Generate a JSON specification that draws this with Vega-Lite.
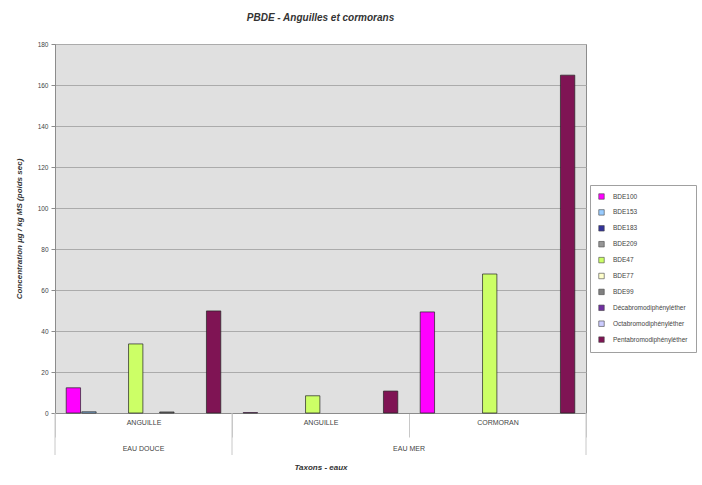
{
  "$schema": "https://vega.github.io/schema/vega-lite/v6.json",
  "width": 531,
  "height": 369,
  "autosize": {"type": "none"},
  "padding": {"left": 55, "top": 44, "right": 116, "bottom": 72},
  "background": "white",
  "title": {
    "text": "PBDE - Anguilles et cormorans",
    "font": "Liberation Sans",
    "fontSize": 10,
    "fontStyle": "italic",
    "fontWeight": "bold",
    "color": "#333333",
    "offset": 18
  },
  "config": {
    "font": "Liberation Sans",
    "view": {"fill": "#e0e0e0", "stroke": "#8c8c8c", "strokeWidth": 1}
  },
  "datasets": {
    "bars": [
      {"groupe": "EAU DOUCE|ANGUILLE", "serie": "BDE100", "valeur": 12.3},
      {"groupe": "EAU DOUCE|ANGUILLE", "serie": "BDE153", "valeur": 0.6},
      {"groupe": "EAU DOUCE|ANGUILLE", "serie": "BDE47", "valeur": 33.7},
      {"groupe": "EAU DOUCE|ANGUILLE", "serie": "BDE99", "valeur": 0.5},
      {"groupe": "EAU DOUCE|ANGUILLE", "serie": "Pentabromodiphényléther", "valeur": 49.8},
      {"groupe": "EAU MER|ANGUILLE", "serie": "BDE100", "valeur": 0.2},
      {"groupe": "EAU MER|ANGUILLE", "serie": "BDE47", "valeur": 8.4},
      {"groupe": "EAU MER|ANGUILLE", "serie": "Pentabromodiphényléther", "valeur": 10.7},
      {"groupe": "EAU MER|CORMORAN", "serie": "BDE100", "valeur": 49.3},
      {"groupe": "EAU MER|CORMORAN", "serie": "BDE47", "valeur": 67.8},
      {"groupe": "EAU MER|CORMORAN", "serie": "Pentabromodiphényléther", "valeur": 164.8}
    ],
    "eaux": [
      {"eau": "EAU DOUCE", "groupe": "EAU DOUCE|ANGUILLE"},
      {"eau": "EAU MER", "groupe": "EAU MER|CORMORAN"}
    ],
    "separateurs_gauche": [
      {"groupe": "EAU DOUCE|ANGUILLE", "haut": 0, "bas": -20.5},
      {"groupe": "EAU MER|ANGUILLE", "haut": 0, "bas": -20.5}
    ],
    "separateurs_droite": [
      {"groupe": "EAU MER|CORMORAN", "haut": 0, "bas": -20.5}
    ]
  },
  "layer": [
    {
      "data": {"name": "bars"},
      "mark": {"type": "bar", "stroke": "#222222", "strokeWidth": 0.7},
      "encoding": {
        "x": {
          "field": "groupe",
          "type": "nominal",
          "sort": ["EAU DOUCE|ANGUILLE", "EAU MER|ANGUILLE", "EAU MER|CORMORAN"],
          "scale": {"domain": ["EAU DOUCE|ANGUILLE", "EAU MER|ANGUILLE", "EAU MER|CORMORAN"], "paddingInner": 0, "paddingOuter": 0},
          "axis": {
            "title": "Taxons - eaux",
            "titleFont": "Liberation Sans",
            "titleFontSize": 8,
            "titleFontStyle": "italic",
            "titleFontWeight": "bold",
            "titleColor": "#333333",
            "titlePadding": 26,
            "labelExpr": "split(datum.label, '|')[1]",
            "labelAngle": 0,
            "labelFontSize": 7,
            "labelColor": "#444444",
            "labelPadding": -15,
            "labelBaseline": "middle",
            "tickBand": "extent",
            "tickSize": 24,
            "tickColor": "#c8c8c8",
            "tickWidth": 1,
            "domainColor": "#8c8c8c"
          }
        },
        "xOffset": {
          "field": "serie",
          "type": "nominal",
          "scale": {
            "domain": ["BDE100", "BDE153", "BDE183", "BDE209", "BDE47", "BDE77", "BDE99", "Décabromodiphényléther", "Octabromodiphényléther", "Pentabromodiphényléther"],
            "paddingInner": 0.08,
            "paddingOuter": 0.72
          }
        },
        "y": {
          "field": "valeur",
          "type": "quantitative",
          "scale": {"domain": [0, 180], "nice": false},
          "axis": {
            "title": "Concentration µg / kg MS (poids sec)",
            "titleFont": "Liberation Sans",
            "titleFontSize": 8,
            "titleFontStyle": "italic",
            "titleFontWeight": "bold",
            "titleColor": "#333333",
            "titlePadding": 14,
            "values": [0, 20, 40, 60, 80, 100, 120, 140, 160, 180],
            "labelFontSize": 6.5,
            "labelColor": "#444444",
            "labelPadding": 3,
            "tickSize": 4,
            "tickColor": "#8c8c8c",
            "domainColor": "#8c8c8c",
            "grid": true,
            "gridColor": "#ababab",
            "gridWidth": 1
          }
        },
        "color": {
          "field": "serie",
          "type": "nominal",
          "scale": {
            "domain": ["BDE100", "BDE153", "BDE183", "BDE209", "BDE47", "BDE77", "BDE99", "Décabromodiphényléther", "Octabromodiphényléther", "Pentabromodiphényléther"],
            "range": ["#ff00ff", "#99ccff", "#333399", "#969696", "#ccff66", "#ffffcc", "#808080", "#7030a0", "#ccccff", "#7f1454"]
          },
          "legend": {
            "orient": "none",
            "legendX": 535,
            "legendY": 141,
            "title": null,
            "fillColor": "white",
            "strokeColor": "#a0a0a0",
            "padding": 8,
            "symbolType": "square",
            "symbolSize": 30,
            "symbolStrokeColor": "#444444",
            "symbolStrokeWidth": 0.6,
            "labelFontSize": 6.5,
            "labelColor": "#444444",
            "labelOffset": 8,
            "rowPadding": 6.9
          }
        }
      }
    },
    {
      "data": {"name": "separateurs_gauche"},
      "mark": {"type": "rule", "color": "#c8c8c8", "strokeWidth": 1},
      "encoding": {
        "x": {"field": "groupe", "type": "nominal", "bandPosition": 0},
        "y": {"field": "haut", "type": "quantitative"},
        "y2": {"field": "bas"}
      }
    },
    {
      "data": {"name": "separateurs_droite"},
      "mark": {"type": "rule", "color": "#c8c8c8", "strokeWidth": 1},
      "encoding": {
        "x": {"field": "groupe", "type": "nominal", "bandPosition": 1},
        "y": {"field": "haut", "type": "quantitative"},
        "y2": {"field": "bas"}
      }
    },
    {
      "data": {"name": "eaux"},
      "transform": [{"filter": "datum.eau == 'EAU DOUCE'"}],
      "mark": {"type": "text", "fontSize": 7, "color": "#444444", "dy": 36, "baseline": "middle"},
      "encoding": {
        "x": {"field": "groupe", "type": "nominal", "bandPosition": 0.5},
        "y": {"datum": 0},
        "text": {"field": "eau"}
      }
    },
    {
      "data": {"name": "eaux"},
      "transform": [{"filter": "datum.eau == 'EAU MER'"}],
      "mark": {"type": "text", "fontSize": 7, "color": "#444444", "dy": 36, "baseline": "middle"},
      "encoding": {
        "x": {"field": "groupe", "type": "nominal", "bandPosition": 0},
        "y": {"datum": 0},
        "text": {"field": "eau"}
      }
    }
  ]
}
